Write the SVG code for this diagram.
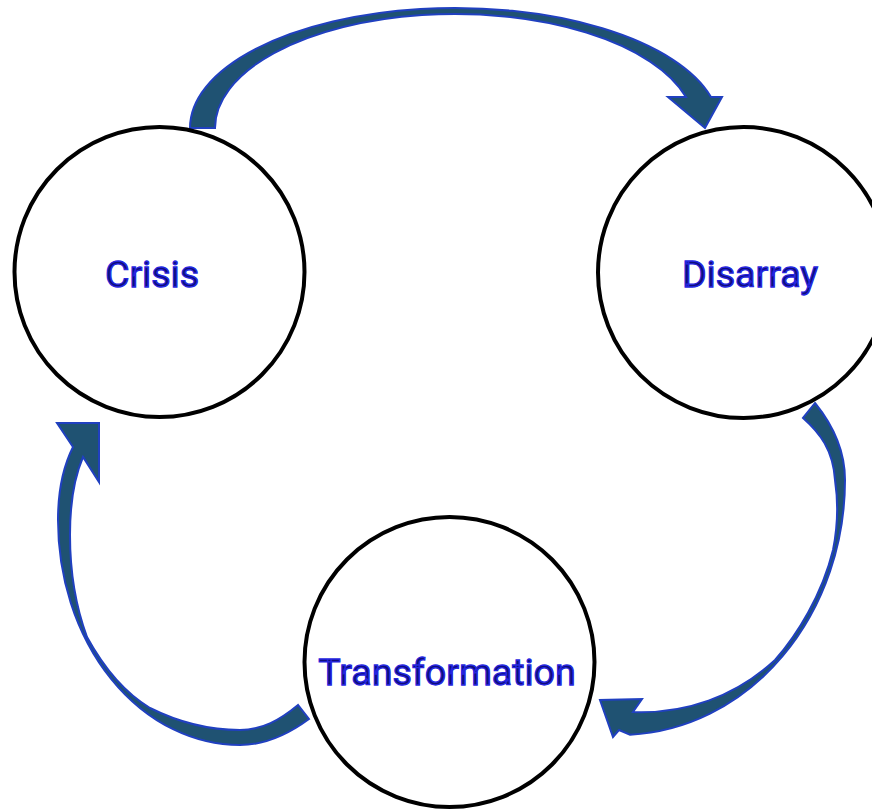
<svg xmlns="http://www.w3.org/2000/svg" width="872" height="810" viewBox="0 0 872 810">
<style>
.node{fill:#ffffff;stroke:#000000;stroke-width:4}
.lbl{font-family:Roboto,"Liberation Sans",sans-serif;font-size:37.5px;fill:#0e0e78;stroke:#2626e0;stroke-width:1.3;text-anchor:middle}
.arr{fill:#1f5272;stroke:#2040c0;stroke-width:2;stroke-linejoin:miter}
</style>
<rect width="872" height="810" fill="#ffffff"/>
<g id="connectors">
<path class="arr" d="M 190,128 A 265,120 0 0 1 711,97 L 722,97 L 705,128 L 668,97 L 686,97 A 240,114 0 0 0 215,128 Z"/>
<path class="arr" d="M 815,403 C 832,424 845,450 845,480 A 225,255 0 0 1 630,734.7 L 619,730 L 613,737 L 600,700 L 642,699 L 633,712 C 685,714 735,697 775,660 C 797,635 822,595 833,550 C 838,525 838,500 835,480 C 833,450 820,433 803,418 Z"/>
<path class="arr" d="M 309,719 C 290,733 265,745 240,745 A 182,225 0 0 1 58,520 C 58,490 64,465 73,447 L 57,423 L 99,423 L 99,482 L 83,457 C 74,478 70,505 70,535 C 70,580 77,610 87,637 C 104,668 125,693 150,708 C 180,723 210,730 240,730 C 262,730 280,720 298,705 Z"/>
</g>
<g id="crisis">
<circle class="node" cx="159.5" cy="272" r="145"/>
<text class="lbl" x="152" y="287">Crisis</text>
</g>
<g id="disarray">
<circle class="node" cx="743.5" cy="272.5" r="145.5"/>
<text class="lbl" x="750" y="287">Disarray</text>
</g>
<g id="transformation">
<circle class="node" cx="449.5" cy="662" r="145"/>
<text class="lbl" x="447" y="685">Transformation</text>
</g>
</svg>
